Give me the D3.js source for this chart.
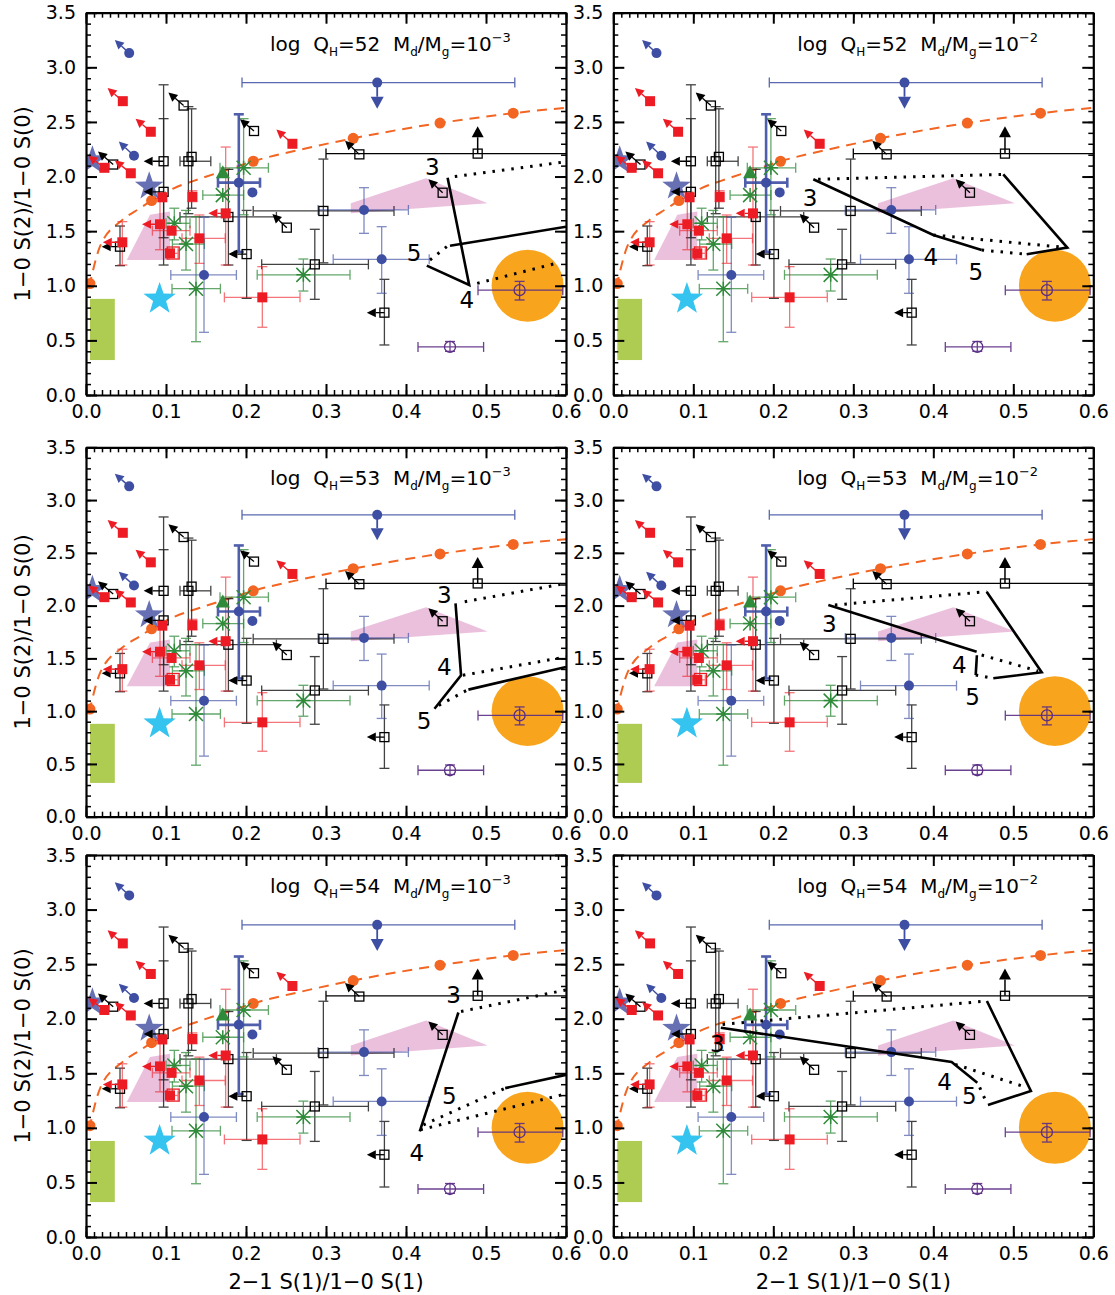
<!DOCTYPE html>
<html>
<head>
<meta charset="utf-8">
<title>H2 line ratios</title>
<script src="https://cdn.jsdelivr.net/npm/d3@7"></script>
<style>
  body { margin: 0; background: #fff; }
  text { font-family: "DejaVu Sans", sans-serif; white-space: pre; }
</style>
</head>
<body>
<svg id="chart" width="1115" height="1295"></svg>
<script>
// ---- data ----
var xTicks = [0, 0.1, 0.2, 0.3, 0.4, 0.5, 0.6];
var yTicks = [0, 0.5, 1, 1.5, 2, 2.5, 3, 3.5];
var qhVals = ["52", "52", "53", "53", "54", "54"];
var dustExp = ["\u22123", "\u22122", "\u22123", "\u22122", "\u22123", "\u22122"];

// [x, y, xlo, xhi, ylo, yhi, arrowX, arrowY]
var redPts = [
  [0.046, 2.69, null, null, null, null, 0.027, 2.81],
  [0.081, 2.41, null, null, null, null, 0.062, 2.53],
  [0.258, 2.30, null, null, null, null, 0.238, 2.43],
  [0.023, 2.08, null, null, null, null, 0.003, 2.19],
  [0.056, 2.03, null, null, null, null, 0.036, 2.15],
  [0.0454, 1.398, null, null, 1.19, 1.587, 0.021, 1.398],
  [0.0954, 1.81, null, null, null, null, null, null],
  [0.0925, 1.563, null, null, 1.33, 1.80, 0.070, 1.563],
  [0.107, 1.504, 0.083, 0.13, null, null, null, null],
  [0.105, 1.297, 0.10, 0.115, null, null, null, null],
  [0.1417, 1.434, 0.12, 0.174, 1.205, 1.648, null, null],
  [0.133, 1.815, null, null, 1.77, 1.87, null, null],
  [0.1746, 1.663, null, null, 1.19, 2.27, 0.153, 1.663],
  [0.2204, 0.894, 0.173, 0.2675, 0.62, 1.175, null, null]
];
var redOpen = [[0.109, 1.30]];

var bluePts = [
  [0.054, 3.13, null, null, null, null, 0.036, 3.25],
  [0.060, 2.19, null, null, null, null, 0.041, 2.32],
  [0.208, 1.855, null, null, null, null, null, null],
  [0.3475, 1.694, 0.290, 0.403, 1.48, 1.898, null, null],
  [0.3696, 1.242, 0.309, 0.429, 0.931, 1.541, null, null],
  [0.1475, 1.099, 0.106, 0.188, 0.574, 1.627, null, null]
];
var blueThick = [[0.191, 1.944, 0.165, 0.2175, 1.31, 2.57]];
// [x, y, xlo, xhi, arrowTipY]
var blueUpper = [[0.364, 2.86, 0.195, 0.536, 2.62]];

var greenPts = [
  [0.197, 2.08, 0.1675, 0.228, 1.65, 2.53],
  [0.171, 1.83, 0.146, 0.197, null, null],
  [0.2717, 1.10, 0.214, 0.33, 0.952, 1.245],
  [0.1375, 0.973, 0.1075, 0.168, 0.488, 1.632],
  [0.125, 1.382, 0.108, 0.148, 1.144, 1.69],
  [0.1104, 1.572, 0.10, 0.13, 1.42, 1.71]
];
var greenTri = [[0.171, 2.03]];

var blackPts = [
  [0.034, 2.11, null, null, null, null, 0.015, 2.23],
  [0.0425, 1.358, null, null, 1.184, 1.547, 0.0196, 1.358],
  [0.097, 2.14, null, null, 1.44, 2.84, 0.072, 2.14],
  [0.097, 1.86, null, null, 1.19, 2.53, 0.072, 1.86],
  [0.122, 2.65, null, null, null, null, 0.103, 2.77],
  [0.128, 2.14, 0.1175, 0.156, 1.66, 2.64, null, null],
  [0.132, 2.18, null, null, 1.71, 2.62, null, null],
  [0.21, 2.417, null, null, null, null, 0.1925, 2.524],
  [0.178, 1.63, 0.1175, 0.238, 1.19, 2.066, null, null],
  [0.2008, 1.29, null, null, 0.885, 1.69, 0.178, 1.29],
  [0.251, 1.532, null, null, null, null, 0.233, 1.657],
  [0.2967, 1.685, 0.209, 0.385, 1.21, 2.16, null, null],
  [0.286, 1.196, 0.2196, 0.353, 0.876, 1.517, null, null],
  [0.3417, 2.203, null, null, null, null, 0.3238, 2.328],
  [0.4458, 1.852, null, null, null, null, 0.428, 1.975],
  [0.373, 0.754, null, null, 0.458, 1.059, 0.351, 0.754]
];
// [x, y, xlo, xhi, arrowTipY]
var blackLower = [[0.4896, 2.21, 0.30, 0.62, 2.46]];

var purplePts = [
  [0.542, 0.96, 0.49, 0.596, 0.87, 1.04],
  [0.455, 0.44, 0.415, 0.497, 0.40, 0.49]
];

var orangeDots = [[0.005, 1.02], [0.082, 1.78], [0.209, 2.14], [0.334, 2.35], [0.4425, 2.49], [0.534, 2.58]];
var orangeCurve = [[0.004, 0.99], [0.0175, 1.36], [0.045, 1.60], [0.0675, 1.71], [0.082, 1.78], [0.109, 1.89],
  [0.1425, 1.98], [0.18, 2.07], [0.209, 2.14], [0.27, 2.25], [0.334, 2.35], [0.4425, 2.49], [0.534, 2.58], [0.6, 2.63]];

var blueStars = [[0.008, 2.15], [0.079, 1.91]];
var cyanStars = [[0.092, 0.88]];
var greenBox = [0.005, 0.036, 0.32, 0.88];
var pinkRegions = [
  [[0.051, 1.236], [0.08, 1.65], [0.105, 1.68], [0.105, 1.236]],
  [[0.331, 1.663], [0.331, 1.755], [0.425, 1.984], [0.502, 1.755]]
];
// [x, y, rx, ry]
var orangeDisk = [0.552, 1.00, 0.045, 0.33];

// model tracks, one entry per panel
var solidLines = [
  [[[0.452, 1.99], [0.479, 1.007], [0.426, 1.184]], [[0.455, 1.366], [0.6, 1.54]]],
  [[[0.25, 1.975], [0.40, 1.465], [0.4604, 1.3275]], [[0.4875, 2.02], [0.5675, 1.349], [0.5167, 1.288]]],
  [[[0.4619, 2.021], [0.4688, 1.34], [0.4356, 1.023]], [[0.478, 1.204], [0.6, 1.419]]],
  [[[0.2688, 2.006], [0.4542, 1.563]], [[0.4545, 1.53], [0.453, 1.343]], [[0.475, 1.311], [0.5355, 1.368], [0.4667, 2.132]]],
  [[[0.4655, 2.057], [0.4172, 0.967]], [[0.524, 1.364], [0.6, 1.486]]],
  [[[0.1344, 1.918], [0.4229, 1.603], [0.455, 1.414]], [[0.467, 2.162], [0.522, 1.338], [0.4683, 1.209]]]
];
var dottedLines = [
  [[[0.461, 2.0], [0.6, 2.136]], [[0.489, 1.022], [0.5875, 1.205]], [[0.43, 1.236], [0.451, 1.358]]],
  [[[0.256, 1.975], [0.4875, 2.02]], [[0.40, 1.465], [0.5675, 1.349]], [[0.4604, 1.3275], [0.5167, 1.288]]],
  [[[0.4734, 2.037], [0.6, 2.211]], [[0.4711, 1.34], [0.6, 1.514]], [[0.441, 1.055], [0.4757, 1.197]]],
  [[[0.277, 2.006], [0.4667, 2.132]], [[0.4604, 1.532], [0.531, 1.38]], [[0.453, 1.343], [0.475, 1.311]]],
  [[[0.4688, 2.066], [0.6, 2.264]], [[0.4218, 1.028], [0.524, 1.364]], [[0.418, 0.983], [0.6, 1.312]]],
  [[[0.1366, 1.948], [0.467, 2.162]], [[0.4273, 1.582], [0.5176, 1.368]], [[0.458, 1.37], [0.4665, 1.232]]]
];
var trackLabels = [
  [["3", 0.433, 2.09], ["4", 0.476, 0.87], ["5", 0.41, 1.297]],
  [["3", 0.246, 1.80], ["4", 0.397, 1.266], ["5", 0.453, 1.129]],
  [["3", 0.448, 2.10], ["4", 0.448, 1.419], ["5", 0.4227, 0.906]],
  [["3", 0.27, 1.83], ["4", 0.4325, 1.437], ["5", 0.449, 1.137]],
  [["3", 0.4596, 2.218], ["4", 0.4135, 0.769], ["5", 0.454, 1.288]],
  [["3", 0.13, 1.765], ["4", 0.414, 1.42], ["5", 0.445, 1.292]]
];

// ---- layout ----
var colLeft = [86, 613.3];
var plotW = 480;
var rowTop = [12.7, 447.3, 855];
var rowBot = [395, 816.7, 1237];

var RED = "#ed1c24", BLUE = "#3d4ea3", GREEN = "#2f8a3a", PURPLE = "#5b2d86", ORANGE = "#f26522";

var svg = d3.select("#chart");
var defs = svg.append("defs");

function starPath(cx, cy, R) {
  var pts = [];
  for (var i = 0; i < 10; i++) {
    var r = i % 2 == 0 ? R : R * 0.4;
    var a = -Math.PI / 2 + i * Math.PI / 5;
    pts.push([cx + r * Math.cos(a), cy + r * Math.sin(a)]);
  }
  return "M" + pts.map(function (p) { return p.join(","); }).join("L") + "Z";
}

function arrow(g, x1, y1, x2, y2, col, len, hw, sw) {
  var dx = x2 - x1, dy = y2 - y1, L = Math.sqrt(dx * dx + dy * dy);
  var ux = dx / L, uy = dy / L;
  var bx = x2 - ux * len, by = y2 - uy * len;
  g.append("line").attr("x1", x1).attr("y1", y1).attr("x2", bx).attr("y2", by)
    .attr("stroke", col).attr("stroke-width", sw);
  g.append("path")
    .attr("d", "M" + x2 + "," + y2 + "L" + (bx - uy * hw) + "," + (by + ux * hw) + "L" + (bx + uy * hw) + "," + (by - ux * hw) + "Z")
    .attr("fill", col);
}

function errBars(g, x, y, p, col, sw, op) {
  var cap = 5;
  var eg = g.append("g").attr("stroke", col).attr("stroke-width", sw).attr("opacity", op);
  if (p[2] != null) {
    eg.append("line").attr("x1", x(p[2])).attr("x2", x(p[3])).attr("y1", y(p[1])).attr("y2", y(p[1]));
    [p[2], p[3]].forEach(function (v) {
      eg.append("line").attr("x1", x(v)).attr("x2", x(v)).attr("y1", y(p[1]) - cap).attr("y2", y(p[1]) + cap);
    });
  }
  if (p[4] != null) {
    eg.append("line").attr("x1", x(p[0])).attr("x2", x(p[0])).attr("y1", y(p[4])).attr("y2", y(p[5]));
    [p[4], p[5]].forEach(function (v) {
      eg.append("line").attr("y1", y(v)).attr("y2", y(v)).attr("x1", x(p[0]) - cap).attr("x2", x(p[0]) + cap);
    });
  }
}

function drawPanel(idx) {
  var c = idx % 2, r = Math.floor(idx / 2);
  var x0 = colLeft[c], top = rowTop[r], bot = rowBot[r];
  var x = d3.scaleLinear().domain([0, 0.6]).range([x0, x0 + plotW]);
  var y = d3.scaleLinear().domain([0, 3.5]).range([bot, top]);

  defs.append("clipPath").attr("id", "clip" + idx).append("rect")
    .attr("x", x0).attr("y", top).attr("width", plotW).attr("height", bot - top);
  var g = svg.append("g").attr("clip-path", "url(#clip" + idx + ")");

  // shaded regions
  pinkRegions.forEach(function (poly) {
    g.append("path").attr("d", d3.line().x(function (d) { return x(d[0]); }).y(function (d) { return y(d[1]); })(poly) + "Z")
      .attr("fill", "#e9b9d9").attr("opacity", 0.9);
  });
  g.append("rect").attr("x", x(greenBox[0])).attr("y", y(greenBox[3]))
    .attr("width", x(greenBox[1]) - x(greenBox[0])).attr("height", y(greenBox[2]) - y(greenBox[3]))
    .attr("fill", "#aecb52");
  g.append("ellipse").attr("cx", x(orangeDisk[0])).attr("cy", y(orangeDisk[1]))
    .attr("rx", x(orangeDisk[2]) - x(0)).attr("ry", y(0) - y(orangeDisk[3]))
    .attr("fill", "#f8a51d");

  // orange dashed track
  g.append("path").datum(orangeCurve)
    .attr("d", d3.line().curve(d3.curveMonotoneX).x(function (d) { return x(d[0]); }).y(function (d) { return y(d[1]); }))
    .attr("fill", "none").attr("stroke", ORANGE).attr("stroke-width", 2).attr("stroke-dasharray", "10,7");
  orangeDots.forEach(function (d) {
    g.append("circle").attr("cx", x(d[0])).attr("cy", y(d[1])).attr("r", 5.5).attr("fill", ORANGE);
  });

  // stars
  blueStars.forEach(function (d) {
    g.append("path").attr("d", starPath(x(d[0]), y(d[1]), 15)).attr("fill", "#5861ac").attr("opacity", 0.9);
  });
  cyanStars.forEach(function (d) {
    g.append("path").attr("d", starPath(x(d[0]), y(d[1]), 17)).attr("fill", "#35c3ef");
  });

  // error bars
  blackPts.forEach(function (p) { errBars(g, x, y, p, "#222", 1.3, 0.85); });
  blackLower.forEach(function (p) { errBars(g, x, y, [p[0], p[1], p[2], p[3], null, null], "#000", 1.3, 1); });
  greenPts.forEach(function (p) { errBars(g, x, y, p, GREEN, 1.3, 0.75); });
  redPts.forEach(function (p) { errBars(g, x, y, p, RED, 1.3, 0.6); });
  bluePts.forEach(function (p) { errBars(g, x, y, p, BLUE, 1.3, 0.65); });
  blueThick.forEach(function (p) { errBars(g, x, y, p, BLUE, 2.6, 0.9); });
  blueUpper.forEach(function (p) { errBars(g, x, y, [p[0], p[1], p[2], p[3], null, null], BLUE, 1.3, 0.85); });
  purplePts.forEach(function (p) { errBars(g, x, y, p, PURPLE, 1.3, 0.9); });

  // markers
  greenPts.forEach(function (p) {
    var cx = x(p[0]), cy = y(p[1]), a = 7;
    g.append("path").attr("d", "M" + (cx - a) + "," + (cy - a) + "L" + (cx + a) + "," + (cy + a) +
      "M" + (cx - a) + "," + (cy + a) + "L" + (cx + a) + "," + (cy - a) +
      "M" + cx + "," + (cy - a) + "L" + cx + "," + (cy + a) + "M" + (cx - a) + "," + cy + "L" + (cx + a) + "," + cy)
      .attr("stroke", GREEN).attr("stroke-width", 1.5);
  });
  greenTri.forEach(function (d) {
    var cx = x(d[0]), cy = y(d[1]);
    g.append("path").attr("d", "M" + cx + "," + (cy - 8) + "L" + (cx + 7) + "," + (cy + 5) + "L" + (cx - 7) + "," + (cy + 5) + "Z")
      .attr("fill", GREEN);
  });
  blackPts.forEach(function (p) {
    if (p[6] != null) arrow(g, x(p[0]), y(p[1]), x(p[6]), y(p[7]), "#000", 9, 4.5, 1.3);
    g.append("rect").attr("x", x(p[0]) - 4.5).attr("y", y(p[1]) - 4.5).attr("width", 9).attr("height", 9)
      .attr("fill", "none").attr("stroke", "#000").attr("stroke-width", 1.3);
  });
  blackLower.forEach(function (p) {
    arrow(g, x(p[0]), y(p[1]), x(p[0]), y(p[4]), "#000", 11, 6, 1.5);
    g.append("rect").attr("x", x(p[0]) - 4.5).attr("y", y(p[1]) - 4.5).attr("width", 9).attr("height", 9)
      .attr("fill", "none").attr("stroke", "#000").attr("stroke-width", 1.3);
  });
  redPts.forEach(function (p) {
    if (p[6] != null) arrow(g, x(p[0]), y(p[1]), x(p[6]), y(p[7]), RED, 9, 4.5, 1.4);
    g.append("rect").attr("x", x(p[0]) - 5).attr("y", y(p[1]) - 5).attr("width", 10).attr("height", 10).attr("fill", RED);
  });
  redOpen.forEach(function (d) {
    g.append("rect").attr("x", x(d[0]) - 6).attr("y", y(d[1]) - 6).attr("width", 12).attr("height", 12)
      .attr("fill", "none").attr("stroke", RED).attr("stroke-width", 1.3);
  });
  bluePts.concat(blueThick).forEach(function (p) {
    if (p[6] != null) arrow(g, x(p[0]), y(p[1]), x(p[6]), y(p[7]), BLUE, 9, 4.5, 1.4);
    g.append("circle").attr("cx", x(p[0])).attr("cy", y(p[1])).attr("r", 5).attr("fill", BLUE);
  });
  blueUpper.forEach(function (p) {
    arrow(g, x(p[0]), y(p[1]), x(p[0]), y(p[4]), BLUE, 12, 6.5, 1.8);
    g.append("circle").attr("cx", x(p[0])).attr("cy", y(p[1])).attr("r", 5).attr("fill", BLUE);
  });
  purplePts.forEach(function (p) {
    g.append("circle").attr("cx", x(p[0])).attr("cy", y(p[1])).attr("r", 5.5)
      .attr("fill", "none").attr("stroke", PURPLE).attr("stroke-width", 1.3);
  });

  // model tracks
  var ln = d3.line().x(function (d) { return x(d[0]); }).y(function (d) { return y(d[1]); });
  solidLines[idx].forEach(function (s) {
    g.append("path").attr("d", ln(s)).attr("fill", "none").attr("stroke", "#000").attr("stroke-width", 2.6);
  });
  dottedLines[idx].forEach(function (s) {
    g.append("path").attr("d", ln(s)).attr("fill", "none").attr("stroke", "#000").attr("stroke-width", 3)
      .attr("stroke-dasharray", "2.5,7");
  });
  trackLabels[idx].forEach(function (t) {
    g.append("text").attr("x", x(t[1])).attr("y", y(t[2])).attr("text-anchor", "middle")
      .attr("dominant-baseline", "central").attr("font-size", 23).text(t[0]);
  });

  // title
  var tt = svg.append("text").attr("x", x0 + 184).attr("y", top + 38).attr("font-size", 20);
  tt.append("tspan").text("log  Q");
  tt.append("tspan").attr("font-size", 12).attr("dy", 5).text("H");
  tt.append("tspan").attr("dy", -5).text("=" + qhVals[idx] + "  M");
  tt.append("tspan").attr("font-size", 12).attr("dy", 5).text("d");
  tt.append("tspan").attr("dy", -5).text("/M");
  tt.append("tspan").attr("font-size", 12).attr("dy", 5).text("g");
  tt.append("tspan").attr("dy", -5).text("=10");
  tt.append("tspan").attr("font-size", 13).attr("dy", -9).text(dustExp[idx]);

  // axes with inward ticks
  var fmt = d3.format(".1f");
  var minorX = d3.range(0, 61).map(function (i) { return i / 100; });
  var minorY = d3.range(0, 36).map(function (i) { return i / 10; });
  function axisSet(ax, minor, major, tx, labels) {
    var gm = svg.append("g").attr("transform", tx)
      .call(ax.tickValues(minor).tickSize(-5).tickSizeOuter(0).tickFormat(""));
    gm.select(".domain").remove();
    gm.selectAll("line").attr("stroke-width", 1.5);
    var gM = svg.append("g").attr("transform", tx)
      .call(ax.tickValues(major).tickSize(-11).tickSizeOuter(0).tickPadding(10).tickFormat(labels ? fmt : ""));
    gM.select(".domain").attr("stroke-width", 2.2);
    gM.selectAll("line").attr("stroke-width", 2);
    gM.selectAll("text").attr("font-size", 19).attr("font-family", "DejaVu Sans").attr("fill", "#000");
  }
  axisSet(d3.axisBottom(x), minorX, xTicks, "translate(0," + bot + ")", true);
  axisSet(d3.axisTop(x), minorX, xTicks, "translate(0," + top + ")", false);
  axisSet(d3.axisLeft(y), minorY, yTicks, "translate(" + x0 + ",0)", true);
  axisSet(d3.axisRight(y), minorY, yTicks, "translate(" + (x0 + plotW) + ",0)", false);

  // axis titles
  if (c == 0) {
    svg.append("text").attr("transform", "translate(30," + ((top + bot) / 2) + ") rotate(-90)")
      .attr("text-anchor", "middle").attr("font-size", 21).text("1\u22120 S(2)/1\u22120 S(0)");
  }
  if (r == 2) {
    svg.append("text").attr("x", x0 + plotW / 2).attr("y", bot + 52).attr("text-anchor", "middle")
      .attr("font-size", 21).text("2\u22121 S(1)/1\u22120 S(1)");
  }
}

for (var i = 0; i < 6; i++) drawPanel(i);
</script>
</body>
</html>
